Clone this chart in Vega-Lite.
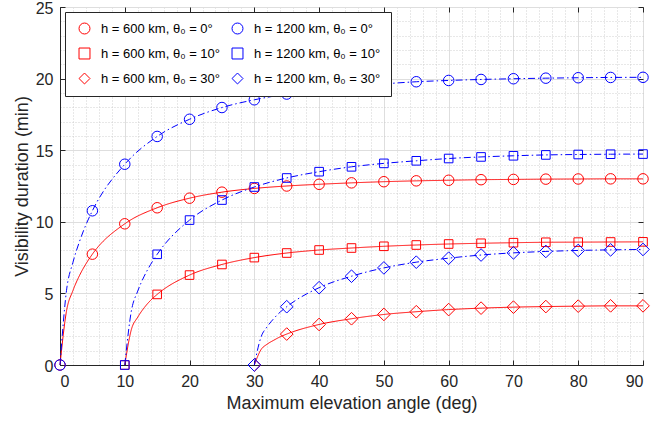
{
  "$schema": "https://vega.github.io/schema/vega-lite/v6.json",
  "width": 583,
  "height": 358,
  "autosize": {"type": "none"},
  "padding": {"left": 60, "top": 7, "right": 29, "bottom": 57},
  "background": "white",
  "config": {
    "font": "Liberation Sans",
    "view": {"stroke": "#262626", "strokeWidth": 1},
    "axis": {"labelFont": "Liberation Sans", "titleFont": "Liberation Sans", "labelColor": "#262626", "titleColor": "#262626", "titleFontWeight": "normal", "domainColor": "#262626", "tickColor": "#262626"},
    "legend": {"labelFont": "Liberation Sans"}
  },
  "datasets": {
    "d": [
      {"s": "h = 600 km, θ₀ = 0°", "h": 600, "x": 0, "y": 0},
      {"s": "h = 600 km, θ₀ = 0°", "h": 600, "x": 1, "y": 3.76},
      {"s": "h = 600 km, θ₀ = 0°", "h": 600, "x": 2, "y": 5.2},
      {"s": "h = 600 km, θ₀ = 0°", "h": 600, "x": 3, "y": 6.24},
      {"s": "h = 600 km, θ₀ = 0°", "h": 600, "x": 4, "y": 7.06},
      {"s": "h = 600 km, θ₀ = 0°", "h": 600, "x": 5, "y": 7.74},
      {"s": "h = 600 km, θ₀ = 0°", "h": 600, "x": 10, "y": 9.86},
      {"s": "h = 600 km, θ₀ = 0°", "h": 600, "x": 15, "y": 10.98},
      {"s": "h = 600 km, θ₀ = 0°", "h": 600, "x": 20, "y": 11.65},
      {"s": "h = 600 km, θ₀ = 0°", "h": 600, "x": 25, "y": 12.07},
      {"s": "h = 600 km, θ₀ = 0°", "h": 600, "x": 30, "y": 12.33},
      {"s": "h = 600 km, θ₀ = 0°", "h": 600, "x": 35, "y": 12.5},
      {"s": "h = 600 km, θ₀ = 0°", "h": 600, "x": 40, "y": 12.62},
      {"s": "h = 600 km, θ₀ = 0°", "h": 600, "x": 45, "y": 12.72},
      {"s": "h = 600 km, θ₀ = 0°", "h": 600, "x": 50, "y": 12.8},
      {"s": "h = 600 km, θ₀ = 0°", "h": 600, "x": 55, "y": 12.86},
      {"s": "h = 600 km, θ₀ = 0°", "h": 600, "x": 60, "y": 12.9},
      {"s": "h = 600 km, θ₀ = 0°", "h": 600, "x": 65, "y": 12.94},
      {"s": "h = 600 km, θ₀ = 0°", "h": 600, "x": 70, "y": 12.96},
      {"s": "h = 600 km, θ₀ = 0°", "h": 600, "x": 75, "y": 12.98},
      {"s": "h = 600 km, θ₀ = 0°", "h": 600, "x": 80, "y": 12.99},
      {"s": "h = 600 km, θ₀ = 0°", "h": 600, "x": 85, "y": 13.0},
      {"s": "h = 600 km, θ₀ = 0°", "h": 600, "x": 90, "y": 13.0},

      {"s": "h = 600 km, θ₀ = 10°", "h": 600, "x": 10, "y": 0},
      {"s": "h = 600 km, θ₀ = 10°", "h": 600, "x": 11, "y": 2.45},
      {"s": "h = 600 km, θ₀ = 10°", "h": 600, "x": 12, "y": 3.34},
      {"s": "h = 600 km, θ₀ = 10°", "h": 600, "x": 13, "y": 4.0},
      {"s": "h = 600 km, θ₀ = 10°", "h": 600, "x": 14, "y": 4.52},
      {"s": "h = 600 km, θ₀ = 10°", "h": 600, "x": 15, "y": 4.93},
      {"s": "h = 600 km, θ₀ = 10°", "h": 600, "x": 20, "y": 6.28},
      {"s": "h = 600 km, θ₀ = 10°", "h": 600, "x": 25, "y": 7.02},
      {"s": "h = 600 km, θ₀ = 10°", "h": 600, "x": 30, "y": 7.5},
      {"s": "h = 600 km, θ₀ = 10°", "h": 600, "x": 35, "y": 7.82},
      {"s": "h = 600 km, θ₀ = 10°", "h": 600, "x": 40, "y": 8.03},
      {"s": "h = 600 km, θ₀ = 10°", "h": 600, "x": 45, "y": 8.17},
      {"s": "h = 600 km, θ₀ = 10°", "h": 600, "x": 50, "y": 8.29},
      {"s": "h = 600 km, θ₀ = 10°", "h": 600, "x": 55, "y": 8.38},
      {"s": "h = 600 km, θ₀ = 10°", "h": 600, "x": 60, "y": 8.45},
      {"s": "h = 600 km, θ₀ = 10°", "h": 600, "x": 65, "y": 8.5},
      {"s": "h = 600 km, θ₀ = 10°", "h": 600, "x": 70, "y": 8.54},
      {"s": "h = 600 km, θ₀ = 10°", "h": 600, "x": 75, "y": 8.57},
      {"s": "h = 600 km, θ₀ = 10°", "h": 600, "x": 80, "y": 8.58},
      {"s": "h = 600 km, θ₀ = 10°", "h": 600, "x": 85, "y": 8.59},
      {"s": "h = 600 km, θ₀ = 10°", "h": 600, "x": 90, "y": 8.6},

      {"s": "h = 600 km, θ₀ = 30°", "h": 600, "x": 30, "y": 0},
      {"s": "h = 600 km, θ₀ = 30°", "h": 600, "x": 31, "y": 1.05},
      {"s": "h = 600 km, θ₀ = 30°", "h": 600, "x": 32, "y": 1.46},
      {"s": "h = 600 km, θ₀ = 30°", "h": 600, "x": 33, "y": 1.73},
      {"s": "h = 600 km, θ₀ = 30°", "h": 600, "x": 34, "y": 1.97},
      {"s": "h = 600 km, θ₀ = 30°", "h": 600, "x": 35, "y": 2.16},
      {"s": "h = 600 km, θ₀ = 30°", "h": 600, "x": 40, "y": 2.83},
      {"s": "h = 600 km, θ₀ = 30°", "h": 600, "x": 45, "y": 3.23},
      {"s": "h = 600 km, θ₀ = 30°", "h": 600, "x": 50, "y": 3.53},
      {"s": "h = 600 km, θ₀ = 30°", "h": 600, "x": 55, "y": 3.72},
      {"s": "h = 600 km, θ₀ = 30°", "h": 600, "x": 60, "y": 3.87},
      {"s": "h = 600 km, θ₀ = 30°", "h": 600, "x": 65, "y": 3.97},
      {"s": "h = 600 km, θ₀ = 30°", "h": 600, "x": 70, "y": 4.04},
      {"s": "h = 600 km, θ₀ = 30°", "h": 600, "x": 75, "y": 4.08},
      {"s": "h = 600 km, θ₀ = 30°", "h": 600, "x": 80, "y": 4.11},
      {"s": "h = 600 km, θ₀ = 30°", "h": 600, "x": 85, "y": 4.13},
      {"s": "h = 600 km, θ₀ = 30°", "h": 600, "x": 90, "y": 4.13},

      {"s": "h = 1200 km, θ₀ = 0°", "h": 1200, "x": 0, "y": 0},
      {"s": "h = 1200 km, θ₀ = 0°", "h": 1200, "x": 1, "y": 5.19},
      {"s": "h = 1200 km, θ₀ = 0°", "h": 1200, "x": 2, "y": 7.17},
      {"s": "h = 1200 km, θ₀ = 0°", "h": 1200, "x": 3, "y": 8.61},
      {"s": "h = 1200 km, θ₀ = 0°", "h": 1200, "x": 4, "y": 9.79},
      {"s": "h = 1200 km, θ₀ = 0°", "h": 1200, "x": 5, "y": 10.77},
      {"s": "h = 1200 km, θ₀ = 0°", "h": 1200, "x": 10, "y": 14.02},
      {"s": "h = 1200 km, θ₀ = 0°", "h": 1200, "x": 15, "y": 15.96},
      {"s": "h = 1200 km, θ₀ = 0°", "h": 1200, "x": 20, "y": 17.16},
      {"s": "h = 1200 km, θ₀ = 0°", "h": 1200, "x": 25, "y": 17.98},
      {"s": "h = 1200 km, θ₀ = 0°", "h": 1200, "x": 30, "y": 18.52},
      {"s": "h = 1200 km, θ₀ = 0°", "h": 1200, "x": 35, "y": 18.92},
      {"s": "h = 1200 km, θ₀ = 0°", "h": 1200, "x": 40, "y": 19.22},
      {"s": "h = 1200 km, θ₀ = 0°", "h": 1200, "x": 45, "y": 19.45},
      {"s": "h = 1200 km, θ₀ = 0°", "h": 1200, "x": 50, "y": 19.63},
      {"s": "h = 1200 km, θ₀ = 0°", "h": 1200, "x": 55, "y": 19.78},
      {"s": "h = 1200 km, θ₀ = 0°", "h": 1200, "x": 60, "y": 19.87},
      {"s": "h = 1200 km, θ₀ = 0°", "h": 1200, "x": 65, "y": 19.94},
      {"s": "h = 1200 km, θ₀ = 0°", "h": 1200, "x": 70, "y": 19.99},
      {"s": "h = 1200 km, θ₀ = 0°", "h": 1200, "x": 75, "y": 20.03},
      {"s": "h = 1200 km, θ₀ = 0°", "h": 1200, "x": 80, "y": 20.06},
      {"s": "h = 1200 km, θ₀ = 0°", "h": 1200, "x": 85, "y": 20.08},
      {"s": "h = 1200 km, θ₀ = 0°", "h": 1200, "x": 90, "y": 20.09},

      {"s": "h = 1200 km, θ₀ = 10°", "h": 1200, "x": 10, "y": 0},
      {"s": "h = 1200 km, θ₀ = 10°", "h": 1200, "x": 11, "y": 3.73},
      {"s": "h = 1200 km, θ₀ = 10°", "h": 1200, "x": 12, "y": 5.16},
      {"s": "h = 1200 km, θ₀ = 10°", "h": 1200, "x": 13, "y": 6.2},
      {"s": "h = 1200 km, θ₀ = 10°", "h": 1200, "x": 14, "y": 7.03},
      {"s": "h = 1200 km, θ₀ = 10°", "h": 1200, "x": 15, "y": 7.73},
      {"s": "h = 1200 km, θ₀ = 10°", "h": 1200, "x": 20, "y": 10.12},
      {"s": "h = 1200 km, θ₀ = 10°", "h": 1200, "x": 25, "y": 11.52},
      {"s": "h = 1200 km, θ₀ = 10°", "h": 1200, "x": 30, "y": 12.43},
      {"s": "h = 1200 km, θ₀ = 10°", "h": 1200, "x": 35, "y": 13.06},
      {"s": "h = 1200 km, θ₀ = 10°", "h": 1200, "x": 40, "y": 13.5},
      {"s": "h = 1200 km, θ₀ = 10°", "h": 1200, "x": 45, "y": 13.84},
      {"s": "h = 1200 km, θ₀ = 10°", "h": 1200, "x": 50, "y": 14.08},
      {"s": "h = 1200 km, θ₀ = 10°", "h": 1200, "x": 55, "y": 14.26},
      {"s": "h = 1200 km, θ₀ = 10°", "h": 1200, "x": 60, "y": 14.42},
      {"s": "h = 1200 km, θ₀ = 10°", "h": 1200, "x": 65, "y": 14.53},
      {"s": "h = 1200 km, θ₀ = 10°", "h": 1200, "x": 70, "y": 14.61},
      {"s": "h = 1200 km, θ₀ = 10°", "h": 1200, "x": 75, "y": 14.67},
      {"s": "h = 1200 km, θ₀ = 10°", "h": 1200, "x": 80, "y": 14.7},
      {"s": "h = 1200 km, θ₀ = 10°", "h": 1200, "x": 85, "y": 14.72},
      {"s": "h = 1200 km, θ₀ = 10°", "h": 1200, "x": 90, "y": 14.73},

      {"s": "h = 1200 km, θ₀ = 30°", "h": 1200, "x": 30, "y": 0},
      {"s": "h = 1200 km, θ₀ = 30°", "h": 1200, "x": 31, "y": 1.91},
      {"s": "h = 1200 km, θ₀ = 30°", "h": 1200, "x": 32, "y": 2.68},
      {"s": "h = 1200 km, θ₀ = 30°", "h": 1200, "x": 33, "y": 3.24},
      {"s": "h = 1200 km, θ₀ = 30°", "h": 1200, "x": 34, "y": 3.7},
      {"s": "h = 1200 km, θ₀ = 30°", "h": 1200, "x": 35, "y": 4.07},
      {"s": "h = 1200 km, θ₀ = 30°", "h": 1200, "x": 40, "y": 5.4},
      {"s": "h = 1200 km, θ₀ = 30°", "h": 1200, "x": 45, "y": 6.2},
      {"s": "h = 1200 km, θ₀ = 30°", "h": 1200, "x": 50, "y": 6.78},
      {"s": "h = 1200 km, θ₀ = 30°", "h": 1200, "x": 55, "y": 7.18},
      {"s": "h = 1200 km, θ₀ = 30°", "h": 1200, "x": 60, "y": 7.46},
      {"s": "h = 1200 km, θ₀ = 30°", "h": 1200, "x": 65, "y": 7.68},
      {"s": "h = 1200 km, θ₀ = 30°", "h": 1200, "x": 70, "y": 7.83},
      {"s": "h = 1200 km, θ₀ = 30°", "h": 1200, "x": 75, "y": 7.93},
      {"s": "h = 1200 km, θ₀ = 30°", "h": 1200, "x": 80, "y": 8.0},
      {"s": "h = 1200 km, θ₀ = 30°", "h": 1200, "x": 85, "y": 8.04},
      {"s": "h = 1200 km, θ₀ = 30°", "h": 1200, "x": 90, "y": 8.07}
    ]
  },
  "data": {"name": "d"},
  "layer": [
    {
      "mark": {"type": "point", "opacity": 0},
      "encoding": {
        "x": {"field": "x", "type": "quantitative", "scale": {"domain": [0, 90], "nice": false},
          "axis": {"orient": "bottom", "values": [2,4,6,8,12,14,16,18,22,24,26,28,32,34,36,38,42,44,46,48,52,54,56,58,62,64,66,68,72,74,76,78,82,84,86,88], "grid": true, "gridColor": "#c4c4c4", "gridDash": [1, 2], "gridWidth": 0.8, "ticks": false, "labels": false, "domain": false, "title": null}},
        "y": {"field": "y", "type": "quantitative", "scale": {"domain": [0, 25], "nice": false},
          "axis": {"orient": "left", "values": [1,2,3,4,6,7,8,9,11,12,13,14,16,17,18,19,21,22,23,24], "grid": true, "gridColor": "#c4c4c4", "gridDash": [1, 2], "gridWidth": 0.8, "ticks": false, "labels": false, "domain": false, "title": null}}
      }
    },
    {
      "mark": {"type": "line", "interpolate": "monotone", "strokeWidth": 1},
      "encoding": {
        "x": {"field": "x", "type": "quantitative", "scale": {"domain": [0, 90], "nice": false},
          "axis": {"orient": "bottom", "values": [0,10,20,30,40,50,60,70,80,90], "grid": true, "gridColor": "#dedede", "gridWidth": 1, "tickSize": -5, "labelPadding": 13, "labelFontSize": 16, "title": "Maximum elevation angle (deg)", "titleFontSize": 18, "titlePadding": 5}},
        "y": {"field": "y", "type": "quantitative", "scale": {"domain": [0, 25], "nice": false},
          "axis": {"orient": "left", "values": [0,5,10,15,20,25], "grid": true, "gridColor": "#dedede", "gridWidth": 1, "tickSize": -5, "labelPadding": 12, "labelOffset": 1, "labelFontSize": 16, "title": "Visibility duration (min)", "titleFontSize": 18, "titlePadding": 4}},
        "detail": {"field": "s", "type": "nominal"},
        "color": {"field": "s", "type": "nominal",
          "scale": {"domain": ["h = 600 km, θ₀ = 0°", "h = 600 km, θ₀ = 10°", "h = 600 km, θ₀ = 30°", "h = 1200 km, θ₀ = 0°", "h = 1200 km, θ₀ = 10°", "h = 1200 km, θ₀ = 30°"],
            "range": ["#ff0000", "#ff0000", "#ff0000", "#0000ff", "#0000ff", "#0000ff"]},
          "legend": {"orient": "top-left", "offset": 5, "columns": 2, "title": null, "strokeColor": "#262626", "fillColor": "white", "padding": 10, "labelFontSize": 13, "labelColor": "#000000", "rowPadding": 10, "columnPadding": 8, "symbolOffset": 3, "labelOffset": 10, "symbolStrokeWidth": 1, "symbolSize": 120, "cornerRadius": 0}},
        "strokeDash": {"field": "h", "type": "nominal", "legend": null,
          "scale": {"domain": [600, 1200], "range": [[1, 0], [7, 3, 1.5, 3]]}},
        "order": {"field": "x", "type": "quantitative"}
      }
    },
    {
      "transform": [{"filter": "datum.x % 5 == 0"}],
      "encoding": {
        "x": {"field": "x", "type": "quantitative", "scale": {"domain": [0, 90], "nice": false},
          "axis": {"orient": "top", "values": [0,10,20,30,40,50,60,70,80,90], "grid": false, "tickSize": -5, "labels": false, "domain": false, "title": null}},
        "y": {"field": "y", "type": "quantitative", "scale": {"domain": [0, 25], "nice": false},
          "axis": {"orient": "right", "values": [0,5,10,15,20,25], "grid": false, "tickSize": -5, "labels": false, "domain": false, "title": null}},
        "color": {"field": "s", "type": "nominal",
          "scale": {"domain": ["h = 600 km, θ₀ = 0°", "h = 600 km, θ₀ = 10°", "h = 600 km, θ₀ = 30°", "h = 1200 km, θ₀ = 0°", "h = 1200 km, θ₀ = 10°", "h = 1200 km, θ₀ = 30°"],
            "range": ["#ff0000", "#ff0000", "#ff0000", "#0000ff", "#0000ff", "#0000ff"]},
          "legend": {"orient": "top-left", "offset": 5, "columns": 2, "title": null, "strokeColor": "#262626", "fillColor": "white", "padding": 10, "labelFontSize": 13, "labelColor": "#000000", "rowPadding": 10, "columnPadding": 8, "symbolOffset": 3, "labelOffset": 10, "symbolStrokeWidth": 1, "symbolSize": 120, "cornerRadius": 0}},
        "shape": {"field": "s", "type": "nominal",
          "scale": {"domain": ["h = 600 km, θ₀ = 0°", "h = 600 km, θ₀ = 10°", "h = 600 km, θ₀ = 30°", "h = 1200 km, θ₀ = 0°", "h = 1200 km, θ₀ = 10°", "h = 1200 km, θ₀ = 30°"],
            "range": ["circle", "square", "diamond", "circle", "square", "diamond"]}}
      },
      "layer": [
        {"transform": [{"filter": "indexof(datum.s, '= 0°') >= 0"}], "mark": {"type": "point", "filled": false, "strokeWidth": 1, "opacity": 1, "size": 110}},
        {"transform": [{"filter": "indexof(datum.s, '= 10°') >= 0"}], "mark": {"type": "point", "filled": false, "strokeWidth": 1, "opacity": 1, "size": 74}},
        {"transform": [{"filter": "indexof(datum.s, '= 30°') >= 0"}], "mark": {"type": "point", "filled": false, "strokeWidth": 1, "opacity": 1, "size": 160}}
      ]
    }
  ],
  "resolve": {"axis": {"x": "independent", "y": "independent"}}
}
